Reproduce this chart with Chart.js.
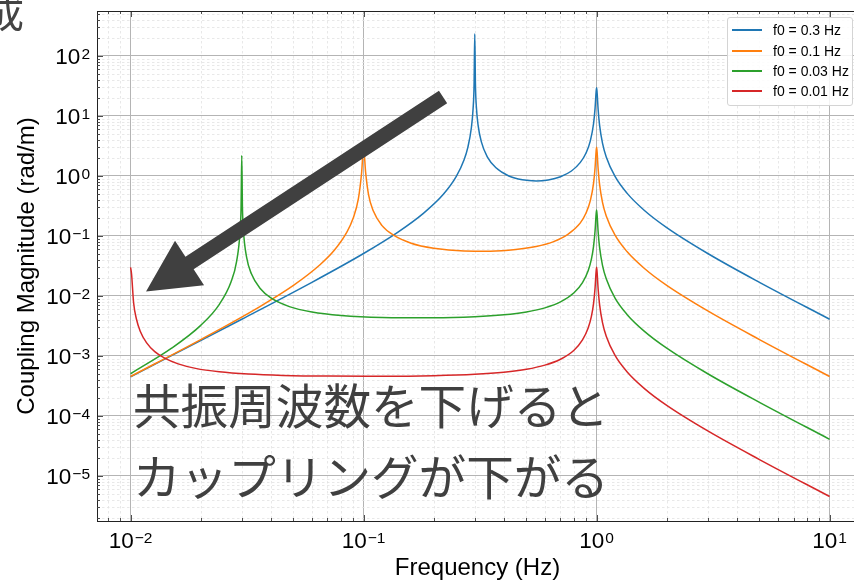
<!DOCTYPE html>
<html>
<head>
<meta charset="utf-8">
<script src="https://cdn.jsdelivr.net/npm/chart.js@4/dist/chart.umd.min.js"></script>
<style>
  html, body { margin: 0; padding: 0; background: #fff; overflow: hidden; width: 854px; height: 580px; }
  #wrap { position: relative; width: 870px; height: 580px; }
  #chart { position: absolute; left: 0; top: 0; }
  .legend { position: absolute; left: 727px; top: 17px; width: 124px; height: 87px;
            border: 1px solid #d4d4d4; border-radius: 3px; background: rgba(255,255,255,0.85);
            font-family: "Liberation Sans", Arial, sans-serif; font-size: 14px; color: #000; }
  .legend .row { position: absolute; left: 0; width: 124px; height: 20px; line-height: 20px; }
  .legend .swatch { position: absolute; left: 4px; top: 9px; width: 30px; height: 2px; }
  .legend .txt { position: absolute; left: 45px; top: 0; white-space: nowrap; }
  .note { position: absolute; font-family: "Noto Sans CJK JP", sans-serif; font-size: 47.6px;
          color: #404040; white-space: nowrap; line-height: 70px; }
  .corner { position: absolute; left: -16px; top: -14px; font-family: "Noto Sans CJK JP", sans-serif;
            font-size: 40px; color: #444; line-height: 50px; }
</style>
</head>
<body>
<div id="wrap">
  <canvas id="chart" width="870" height="580"></canvas>
  <div class="corner">成</div>
  <div id="legend" class="legend"></div>
  <div class="note" style="left:133px; top:369px;">共振周波数を下げると</div>
  <div class="note" style="left:133px; top:440px;">カップリングが下がる</div>
</div>
<script>
// Coupling magnitude (rad/m) versus frequency (Hz) for four resonance frequencies f0.
const freqF03 = [0.01, 0.03, 0.06, 0.1, 0.14, 0.18, 0.22, 0.25, 0.27, 0.28,
                 0.29, 0.295, 0.298, 0.3, 0.302, 0.305, 0.31, 0.32, 0.34, 0.37,
                 0.42, 0.48, 0.55, 0.62, 0.7, 0.78, 0.85, 0.9, 0.94, 0.97,
                 0.985, 0.995, 1.0, 1.005, 1.015, 1.03, 1.06, 1.1, 1.2, 1.35,
                 1.6, 2, 3, 5, 10];
const magF03  = [4.5e-4, 4.1e-3, 0.0169, 0.0511, 0.115, 0.236, 0.495, 0.982, 1.86, 2.97,
                 6.30, 13.0, 33.0, 235, 33.8, 13.7, 7.06, 3.73, 2.07, 1.37,
                 1.00, 0.864, 0.827, 0.859, 0.973, 1.21, 1.67, 2.39, 3.85, 7.36,
                 13.4, 24.9, 29.5, 24.6, 13.1, 7.05, 3.53, 2.08, 0.982, 0.518,
                 0.269, 0.138, 0.0511, 0.0169, 4.1e-3];

const freqF01 = [0.01, 0.02, 0.035, 0.05, 0.065, 0.075, 0.085, 0.09, 0.095, 0.098,
                 0.1, 0.102, 0.105, 0.11, 0.12, 0.135, 0.16, 0.2, 0.27, 0.35,
                 0.45, 0.55, 0.65, 0.75, 0.85, 0.9, 0.94, 0.97, 0.985, 0.995,
                 1.0, 1.005, 1.015, 1.03, 1.06, 1.1, 1.2, 1.35, 1.6, 2,
                 3, 5, 10];
const magF01  = [4.55e-4, 1.88e-3, 6.29e-3, 0.0150, 0.0331, 0.0582, 0.118, 0.193, 0.420, 1.10,
                 3.0, 1.17, 0.489, 0.263, 0.149, 0.102, 0.0758, 0.0625, 0.0563, 0.0558,
                 0.0594, 0.0667, 0.0798, 0.105, 0.164, 0.239, 0.388, 0.748, 1.37, 2.54,
                 3.0, 2.52, 1.34, 0.723, 0.364, 0.216, 0.103, 0.0550, 0.0290, 0.0150,
                 5.63e-3, 1.88e-3, 4.55e-4];

const freqF003 = [0.01, 0.015, 0.02, 0.024, 0.027, 0.0285, 0.0295, 0.0298, 0.03, 0.0302,
                  0.0305, 0.0315, 0.033, 0.036, 0.04, 0.048, 0.06, 0.08, 0.12, 0.2,
                  0.3, 0.4, 0.5, 0.6, 0.7, 0.8, 0.87, 0.92, 0.95, 0.97,
                  0.985, 0.995, 1.0, 1.005, 1.015, 1.03, 1.06, 1.1, 1.2, 1.35,
                  1.6, 2, 3, 5, 10];
const magF003  = [5.06e-4, 1.35e-3, 3.24e-3, 7.20e-3, 0.0173, 0.0375, 0.119, 0.301, 2.2, 0.307,
                  0.125, 0.0436, 0.0234, 0.0133, 9.27e-3, 6.66e-3, 5.42e-3, 4.74e-3, 4.38e-3, 4.32e-3,
                  4.50e-3, 4.85e-3, 5.42e-3, 6.34e-3, 7.96e-3, 0.0113, 0.0167, 0.0263, 0.0412, 0.0666,
                  0.122, 0.227, 0.27, 0.225, 0.120, 0.0645, 0.0325, 0.0193, 9.21e-3, 4.93e-3,
                  2.60e-3, 1.35e-3, 5.06e-4, 1.69e-4, 4.09e-5];

const freqF001 = [0.01, 0.0101, 0.0103, 0.0106, 0.011, 0.0117, 0.0127, 0.014, 0.016, 0.019,
                  0.024, 0.032, 0.045, 0.07, 0.12, 0.2, 0.3, 0.4, 0.5, 0.6,
                  0.7, 0.8, 0.87, 0.92, 0.95, 0.97, 0.985, 0.995, 1.0, 1.005,
                  1.015, 1.03, 1.06, 1.1, 1.2, 1.35, 1.6, 2, 3, 5,
                  10];
const magF001  = [0.030, 0.0228, 7.8e-3, 4.09e-3, 2.59e-3, 1.67e-3, 1.18e-3, 9.19e-4, 7.39e-4, 6.22e-4,
                  5.45e-4, 4.99e-4, 4.74e-4, 4.62e-4, 4.60e-4, 4.70e-4, 4.95e-4, 5.36e-4, 6.00e-4, 7.04e-4,
                  8.83e-4, 1.25e-3, 1.85e-3, 2.92e-3, 4.57e-3, 7.40e-3, 0.0136, 0.0252, 0.0301, 0.0250,
                  0.0133, 7.17e-3, 3.61e-3, 2.14e-3, 1.02e-3, 5.47e-4, 2.89e-4, 1.50e-4, 5.63e-5, 1.88e-5,
                  4.55e-6];

const seriesLabels = ['f0 = 0.3 Hz', 'f0 = 0.1 Hz', 'f0 = 0.03 Hz', 'f0 = 0.01 Hz'];
const seriesColors = ['#1f77b4', '#ff7f0e', '#2ca02c', '#d62728'];
const seriesFreqs  = [freqF03, freqF01, freqF003, freqF001];
const seriesMags   = [magF03, magF01, magF003, magF001];

// Axis ranges and decade ticks
const xMin = 0.007176, xMax = 13.24;
const yMin = 1.778e-6, yMax = 562;
const xTicks = [0.01, 0.1, 1, 10];
const yTicks = [1e-5, 1e-4, 1e-3, 1e-2, 1e-1, 1, 10, 100];

// Annotation arrow, anchored in data space (tail -> tip)
const arrowTail = { x: 0.2193, y: 20.7 };
const arrowTip  = { x: 0.01165, y: 0.0119 };

const FONT = '"Liberation Sans", Arial, sans-serif';
const BASE_PX = 22.5, EXP_PX = 15.5;

function expText(v) {
  const e = Math.round(Math.log10(v));
  return (e < 0 ? '\u2212' : '') + Math.abs(e);
}

function minorValues(min, max) {
  const out = [];
  for (let d = Math.floor(Math.log10(min)); d <= Math.ceil(Math.log10(max)); d++) {
    for (let m = 2; m <= 9; m++) {
      const v = m * Math.pow(10, d);
      if (v > min && v < max) out.push(v);
    }
  }
  return out;
}

// Draws "10" with a raised exponent; (ax, baseline) is the anchor, align is 'right' or 'center'
function drawPow10(ctx, v, ax, baseline, align) {
  const exp = expText(v);
  ctx.font = BASE_PX + 'px ' + FONT;
  const wBase = ctx.measureText('10').width;
  ctx.font = EXP_PX + 'px ' + FONT;
  const wExp = ctx.measureText(exp).width;
  const total = wBase + 1 + wExp;
  const left = align === 'right' ? ax - total : ax - total / 2;
  ctx.textAlign = 'left';
  ctx.textBaseline = 'alphabetic';
  ctx.fillStyle = '#000';
  ctx.font = BASE_PX + 'px ' + FONT;
  ctx.fillText('10', left, baseline);
  ctx.font = EXP_PX + 'px ' + FONT;
  ctx.fillText(exp, left + wBase + 1, baseline - 5.5);
}

const frame = {
  id: 'frame',
  beforeDatasetsDraw(chart) {
    const { ctx, chartArea: a, scales: { x, y } } = chart;
    ctx.save();
    ctx.beginPath();
    ctx.rect(a.left, a.top, a.right - a.left, a.bottom - a.top);
    ctx.clip();
    ctx.strokeStyle = '#e2e2e2';
    ctx.lineWidth = 0.8;
    ctx.setLineDash([2.5, 2.5]);
    for (const v of minorValues(x.min, x.max)) {
      const px = Math.round(x.getPixelForValue(v)) + 0.5;
      ctx.beginPath(); ctx.moveTo(px, a.top); ctx.lineTo(px, a.bottom); ctx.stroke();
    }
    for (const v of minorValues(y.min, y.max)) {
      const py = Math.round(y.getPixelForValue(v)) + 0.5;
      ctx.beginPath(); ctx.moveTo(a.left, py); ctx.lineTo(a.right, py); ctx.stroke();
    }
    ctx.restore();
  },
  afterDatasetsDraw(chart) {
    const { ctx, chartArea: a, scales: { x, y } } = chart;
    ctx.save();
    // top spine
    ctx.strokeStyle = '#222';
    ctx.lineWidth = 1;
    ctx.beginPath();
    ctx.moveTo(a.left, a.top + 0.5); ctx.lineTo(a.right, a.top + 0.5);
    ctx.stroke();
    // inward ticks
    ctx.lineWidth = 0.8;
    const tickY = (v, len) => {
      const py = Math.round(y.getPixelForValue(v)) + 0.5;
      ctx.beginPath(); ctx.moveTo(a.left, py); ctx.lineTo(a.left + len, py); ctx.stroke();
    };
    const tickX = (v, len) => {
      const px = Math.round(x.getPixelForValue(v)) + 0.5;
      ctx.beginPath(); ctx.moveTo(px, a.bottom); ctx.lineTo(px, a.bottom - len); ctx.stroke();
      ctx.beginPath(); ctx.moveTo(px, a.top); ctx.lineTo(px, a.top + len); ctx.stroke();
    };
    yTicks.forEach(v => tickY(v, 6));
    minorValues(y.min, y.max).forEach(v => tickY(v, 3));
    xTicks.forEach(v => tickX(v, 6));
    minorValues(x.min, x.max).forEach(v => tickX(v, 3));

    // decade tick labels
    yTicks.forEach(v => drawPow10(ctx, v, a.left - 7, y.getPixelForValue(v) + 8.5, 'right'));
    xTicks.forEach(v => drawPow10(ctx, v, x.getPixelForValue(v), a.bottom + 27, 'center'));

    // annotation arrow
    const tx = x.getPixelForValue(arrowTail.x), ty = y.getPixelForValue(arrowTail.y);
    const hx = x.getPixelForValue(arrowTip.x),  hy = y.getPixelForValue(arrowTip.y);
    const len = Math.hypot(hx - tx, hy - ty);
    const ux = (hx - tx) / len, uy = (hy - ty) / len;
    const nx = -uy, ny = ux;
    const shaftHalf = 7.5, headLen = 52, headHalf = 26.5;
    const bx = hx - ux * headLen, by = hy - uy * headLen;
    ctx.fillStyle = '#404040';
    ctx.beginPath();
    ctx.moveTo(tx + nx * shaftHalf, ty + ny * shaftHalf);
    ctx.lineTo(bx + nx * shaftHalf, by + ny * shaftHalf);
    ctx.lineTo(bx + nx * headHalf, by + ny * headHalf);
    ctx.lineTo(hx, hy);
    ctx.lineTo(bx - nx * headHalf, by - ny * headHalf);
    ctx.lineTo(bx - nx * shaftHalf, by - ny * shaftHalf);
    ctx.lineTo(tx - nx * shaftHalf, ty - ny * shaftHalf);
    ctx.closePath();
    ctx.fill();
    ctx.restore();
  }
};

const datasets = seriesLabels.map((label, i) => ({
  label,
  data: seriesFreqs[i].map((f, k) => ({ x: f, y: seriesMags[i][k] })),
  borderColor: seriesColors[i],
  backgroundColor: seriesColors[i],
  borderWidth: 1.5,
  borderJoinStyle: 'round',
  pointRadius: 0,
  fill: false,
  cubicInterpolationMode: 'monotone',
  order: seriesLabels.length - i
}));

new Chart(document.getElementById('chart'), {
  type: 'line',
  data: { datasets },
  options: {
    responsive: false,
    animation: false,
    devicePixelRatio: 1,
    layout: { padding: { left: 0, top: 11, right: 12, bottom: 0 } },
    plugins: { legend: { display: false }, tooltip: { enabled: false } },
    scales: {
      x: {
        type: 'logarithmic', position: 'bottom', min: xMin, max: xMax, bounds: 'data',
        afterBuildTicks: s => { s.ticks = xTicks.map(v => ({ value: v })); },
        afterFit: s => { s.height = 59; },
        grid: { color: '#b4b4b4', lineWidth: 1, drawTicks: false },
        border: { display: true, color: '#222', width: 1 },
        ticks: { display: false, autoSkip: false },
        title: { display: true, text: 'Frequency (Hz)', font: { family: FONT, size: 24, lineHeight: 1.0 }, color: '#000',
                 padding: { top: 0, bottom: 0 } }
      },
      y: {
        type: 'logarithmic', position: 'left', min: yMin, max: yMax, bounds: 'data',
        afterBuildTicks: s => { s.ticks = yTicks.map(v => ({ value: v })); },
        afterFit: s => { s.width = 97; },
        grid: { color: '#b4b4b4', lineWidth: 1, drawTicks: false },
        border: { display: true, color: '#222', width: 1 },
        ticks: { display: false, autoSkip: false },
        title: { display: true, text: 'Coupling Magnitude (rad/m)', font: { family: FONT, size: 24 }, color: '#000',
                 padding: { top: 13, bottom: 0 } }
      }
    }
  },
  plugins: [frame]
});

// Legend box built from the same series definitions
const legend = document.getElementById('legend');
const rowTops = [2, 23, 43, 63];
seriesLabels.forEach((label, i) => {
  const row = document.createElement('div');
  row.className = 'row';
  row.style.top = rowTops[i] + 'px';
  const sw = document.createElement('div');
  sw.className = 'swatch';
  sw.style.background = seriesColors[i];
  const tx = document.createElement('div');
  tx.className = 'txt';
  tx.textContent = label;
  row.appendChild(sw); row.appendChild(tx);
  legend.appendChild(row);
});
</script>
</body>
</html>
